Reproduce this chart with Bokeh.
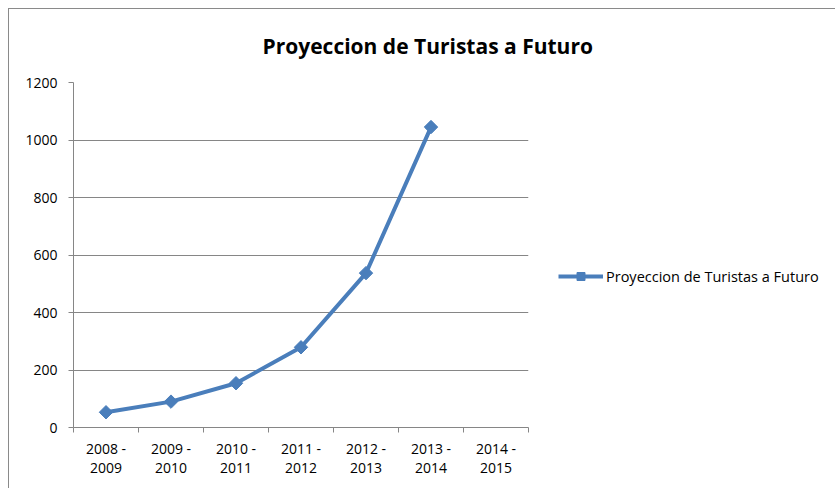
from bokeh.plotting import figure
from bokeh.models import (FactorRange, Range1d, LinearAxis, CategoricalAxis, FixedTicker,
                          Legend, LegendItem, Title)
from bokeh.embed import file_html
from bokeh.resources import INLINE

categories = ["2008 -\n2009", "2009 -\n2010", "2010 -\n2011", "2011 -\n2012",
              "2012 -\n2013", "2013 -\n2014", "2014 -\n2015"]
series_name = "Proyeccion de Turistas a Futuro"
series_cats = categories[:6]
series_values = [53, 90, 154, 279, 537, 1045]
y_ticks = [0, 200, 400, 600, 800, 1000, 1200]

BLUE = "#4A7EBB"
GRAY = "#868686"
FONT = "Open Sans"

p = figure(frame_width=455, frame_height=345, x_range=FactorRange(*categories),
           y_range=Range1d(0, 1200), x_axis_location=None, y_axis_location=None,
           output_backend="svg", toolbar_location=None,
           min_border_left=64, min_border_top=73, min_border_right=307, min_border_bottom=61)
p.outline_line_color = None
p.xgrid.visible = False
p.ygrid.grid_line_color = GRAY
p.ygrid.ticker = FixedTicker(ticks=y_ticks)
p.styles = {"margin-left": "8px", "margin-top": "8px",
            "border-top": "1px solid #8a8a8a", "border-left": "1px solid #8a8a8a"}

yaxis = LinearAxis(ticker=FixedTicker(ticks=y_ticks), axis_line_color=GRAY,
                   major_tick_line_color=GRAY, major_tick_in=0, major_tick_out=5,
                   minor_tick_line_color=None, major_label_standoff=11,
                   major_label_text_font=FONT, major_label_text_font_size="14px",
                   major_label_text_color="#000000")
p.add_layout(yaxis, "left")

# tick marks on the boundaries between categories (synthetic coordinates 0..7)
edge_axis = LinearAxis(ticker=FixedTicker(ticks=list(range(len(categories) + 1))),
                       axis_line_color=GRAY, major_tick_line_color=GRAY, major_tick_in=0,
                       major_tick_out=5, minor_tick_line_color=None, major_label_standoff=0,
                       major_label_overrides={i: "" for i in range(len(categories) + 1)})
p.add_layout(edge_axis, "below")

cat_axis = CategoricalAxis(axis_line_color=None, major_tick_line_color=None,
                           major_label_standoff=0, major_label_text_font=FONT,
                           major_label_text_font_size="14px", major_label_text_color="#000000",
                           major_label_text_line_height=1.0)
p.add_layout(cat_axis, "below")

r_line = p.line(series_cats, series_values, line_color=BLUE, line_width=4)
r_pts = p.scatter(series_cats, series_values, marker="square", angle=0.785398, size=9.5,
                  fill_color=BLUE, line_color=BLUE)

legend = Legend(items=[LegendItem(label=series_name, renderers=[r_line, r_pts])],
                location=(30, 141), padding=0, margin=0, border_line_color=None,
                background_fill_alpha=0, glyph_width=45, label_standoff=3,
                label_text_font=FONT, label_text_font_size="14.5px", label_text_color="#000000")
p.add_layout(legend, "right")

title = Title(text=series_name, align="left", offset=189, text_font=FONT,
              text_font_size="21px", text_font_style="bold", text_color="#000000",
              vertical_align="top", standoff=42)
p.add_layout(title, "above")

open("out.html", "w").write(file_html(p, INLINE))
